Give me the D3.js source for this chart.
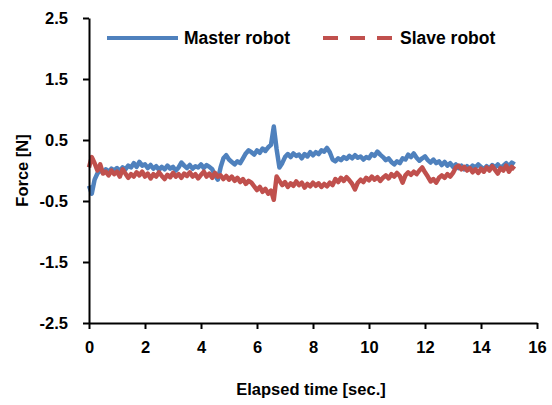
<!DOCTYPE html>
<html>
<head>
<meta charset="utf-8">
<script src="https://cdn.jsdelivr.net/npm/d3@7"></script>
<style>
  body { margin: 0; background: #fff; }
  text { font-family: "Liberation Sans", Arial, sans-serif; fill: #000; }
</style>
</head>
<body>
<div id="chart"></div>
<script>
// sampled every 0.1 s, starting at t = 0
var SAMPLE_STEP = 0.1;

var MASTER = [
  -0.25, -0.38, -0.15, -0.05, 0.0, -0.03, 0.02, -0.02, 0.03, 0.0,
  0.04, -0.01, 0.05, 0.02, 0.08, 0.05, 0.12, 0.06, 0.14, 0.08,
  0.10, 0.04, 0.09, 0.03, 0.07, 0.01, 0.06, 0.02, 0.08, 0.03,
  0.06, 0.0, 0.05, 0.13, 0.08, 0.04, 0.09, 0.03, 0.07, 0.05,
  0.10, 0.04, 0.09, 0.06, 0.02, -0.08, -0.15, 0.05, 0.2, 0.25,
  0.18, 0.14, 0.10, 0.15, 0.12, 0.2, 0.28, 0.33, 0.3, 0.26,
  0.33, 0.29, 0.36, 0.32, 0.38, 0.42, 0.72, 0.35, 0.05, 0.12,
  0.22, 0.27, 0.22, 0.28, 0.24, 0.26, 0.2, 0.27, 0.23, 0.3,
  0.25, 0.3, 0.27, 0.33, 0.31, 0.37, 0.3, 0.18, 0.15, 0.2,
  0.17, 0.22, 0.19, 0.24, 0.2, 0.25, 0.21, 0.23, 0.18, 0.22,
  0.2, 0.27, 0.24, 0.31, 0.26, 0.22, 0.17, 0.2, 0.14, 0.1,
  0.15, 0.12, 0.2, 0.18, 0.26, 0.22, 0.28, 0.21, 0.16, 0.2,
  0.23, 0.17, 0.13, 0.18, 0.12, 0.15, 0.09, 0.14, 0.08, 0.12,
  0.06, 0.1, 0.04, 0.08, 0.02, 0.07, 0.03, 0.08, 0.05, 0.1,
  0.06, 0.02, 0.07, 0.03, 0.09, 0.05, 0.1, 0.04, 0.08, 0.12,
  0.07, 0.13, 0.1
];

var SLAVE = [
  0.05, 0.22, 0.12, 0.0, 0.1, -0.05, -0.02, -0.08, 0.0, -0.06,
  -0.02, -0.1, 0.02, -0.05, -0.12, -0.06, -0.1, -0.03, -0.08, -0.02,
  -0.1, -0.05, -0.13, -0.06, -0.1, -0.03, -0.09, -0.14, -0.07, -0.11,
  -0.04, -0.1, -0.06, -0.12, -0.05, -0.09, -0.03, -0.1, -0.06, -0.13,
  -0.07, -0.02, -0.1, -0.05, -0.12, -0.04, -0.1, -0.08, -0.14, -0.09,
  -0.15, -0.1, -0.17, -0.12, -0.19, -0.14, -0.22, -0.17, -0.2, -0.26,
  -0.32, -0.27, -0.35, -0.3, -0.38, -0.33, -0.48, -0.1, -0.17, -0.24,
  -0.19, -0.27, -0.21, -0.25, -0.18, -0.24, -0.2, -0.28, -0.22, -0.26,
  -0.2, -0.25, -0.21, -0.27, -0.22, -0.26, -0.2, -0.24, -0.14, -0.19,
  -0.12, -0.17, -0.11, -0.16, -0.22, -0.31, -0.2, -0.15, -0.19, -0.12,
  -0.16, -0.1, -0.15, -0.11, -0.17, -0.12, -0.08, -0.13, -0.06, -0.1,
  -0.04, -0.09, -0.2, -0.08, -0.03, -0.07, -0.02, -0.06, 0.0, 0.05,
  -0.03, -0.1, -0.18, -0.14, -0.2, -0.12, -0.08, -0.12, -0.06, -0.1,
  -0.04, 0.05, 0.08, 0.02, 0.06, 0.0, 0.04, -0.03, 0.02, -0.04,
  0.03, -0.02, 0.05, 0.0, 0.07, 0.01, -0.05, 0.04, 0.0, 0.08,
  -0.02, 0.06, 0.02
];

var X_TICKS = [0, 2, 4, 6, 8, 10, 12, 14, 16];
var Y_TICKS = [-2.5, -1.5, -0.5, 0.5, 1.5, 2.5];

var SERIES = [
  { name: "Master robot", values: MASTER, color: "#4f81bd", dash: null },
  { name: "Slave robot", values: SLAVE, color: "#c0504d", dash: "15,12" }
];

// Dimensions and margins
var WIDTH = 552, HEIGHT = 405;
var MARGIN = { top: 18, right: 15, bottom: 82, left: 89 };
var PLOT_W = WIDTH - MARGIN.left - MARGIN.right,
    PLOT_H = HEIGHT - MARGIN.top - MARGIN.bottom;

var svg = d3.select('#chart').append('svg')
    .attr('width', WIDTH)
    .attr('height', HEIGHT);

var g = svg.append('g')
    .attr('transform', 'translate(' + MARGIN.left + ',' + MARGIN.top + ')');

var x = d3.scaleLinear().domain([0, 16]).range([0, PLOT_W]);
var y = d3.scaleLinear().domain([-2.5, 2.5]).range([PLOT_H, 0]);

// lines first, axes drawn on top
var line = d3.line()
    .x(function(d, i) { return x(i * SAMPLE_STEP); })
    .y(function(d) { return y(d); });

g.selectAll('path.series')
  .data(SERIES)
  .enter()
  .append('path')
    .attr('class', 'series')
    .attr('d', function(d) { return line(d.values); })
    .attr('fill', 'none')
    .attr('stroke', function(d) { return d.color; })
    .attr('stroke-width', 4.5)
    .attr('stroke-linejoin', 'round');

// Axes
var xAxis = g.append('g')
    .attr('transform', 'translate(0,' + PLOT_H + ')')
    .call(d3.axisBottom(x).tickValues(X_TICKS).tickSize(6).tickSizeOuter(0).tickPadding(12));

var yAxis = g.append('g')
    .call(d3.axisLeft(y).tickValues(Y_TICKS).tickSize(6).tickSizeOuter(0).tickPadding(15)
      .tickFormat(function(d) { return d.toFixed(1); }));

[xAxis, yAxis].forEach(function(a) {
  a.select('.domain').attr('stroke', '#000').attr('stroke-width', 2);
  a.selectAll('.tick line').attr('stroke', '#000').attr('stroke-width', 2);
  a.selectAll('.tick text')
    .style('font-size', '16.5px')
    .style('font-weight', 'bold')
    .attr('fill', '#000');
});

// Axis titles
svg.append('text')
    .attr('x', MARGIN.left + PLOT_W / 2 - 2)
    .attr('y', 395)
    .attr('text-anchor', 'middle')
    .style('font-size', '16.5px')
    .style('font-weight', 'bold')
    .text('Elapsed time [sec.]');

svg.append('text')
    .attr('transform', 'translate(28,' + (MARGIN.top + PLOT_H / 2) + ') rotate(-90)')
    .attr('text-anchor', 'middle')
    .style('font-size', '16.5px')
    .style('font-weight', 'bold')
    .text('Force [N]');

// Legend
var legend = svg.append('g').attr('transform', 'translate(107,38)');
var item = legend.selectAll('g')
  .data(SERIES)
  .enter()
  .append('g')
    .attr('transform', function(d, i) { return 'translate(' + (i * 216) + ',0)'; });

item.append('line')
    .attr('x1', 0).attr('x2', 71)
    .attr('stroke', function(d) { return d.color; })
    .attr('stroke-width', 4)
    .attr('stroke-dasharray', function(d) { return d.dash; });

item.append('text')
    .attr('x', 77)
    .attr('y', 6)
    .style('font-size', '17.5px')
    .style('font-weight', 'bold')
    .text(function(d) { return d.name; });
</script>
</body>
</html>
